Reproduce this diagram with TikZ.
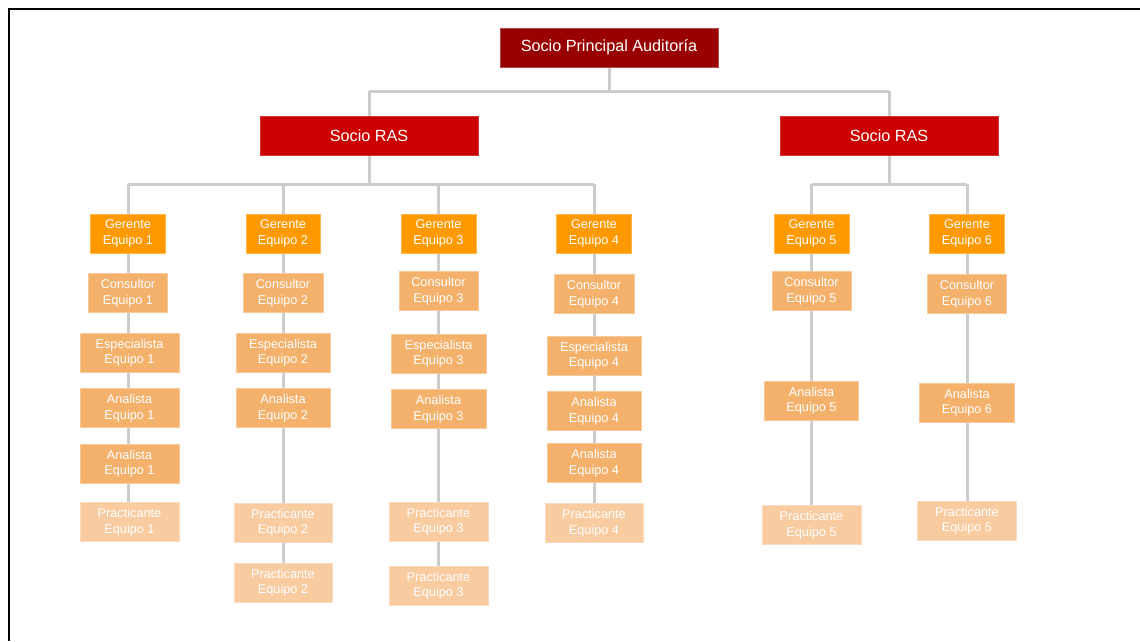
\documentclass[tikz,border=0pt]{standalone}
\usepackage{fontspec}
\setmainfont{Liberation Sans}
\definecolor{darkred}{RGB}{153,0,0}
\definecolor{rasred}{RGB}{204,0,0}
\definecolor{gerc}{RGB}{255,153,0}
\definecolor{midc}{RGB}{244,177,108}
\definecolor{prac}{RGB}{248,203,160}
\definecolor{linec}{RGB}{204,204,204}
\tikzset{
  box/.style={rectangle, inner sep=0pt, minimum height=39pt, align=center, text=white,
    font=\fontsize{12.7}{15.5}\selectfont, line width=0.8pt},
  topbox/.style={box, fill=darkred, draw=darkred!70!white, minimum width=218pt, font=\fontsize{16.2}{18}\selectfont},
  rasbox/.style={box, fill=rasred, draw=rasred!80!white, minimum width=218pt, font=\fontsize{16.2}{18}\selectfont},
  gbox/.style={box, fill=gerc, draw=gerc!70!white},
  mbox/.style={box, fill=midc, draw=midc!70!white},
  pbox/.style={box, fill=prac, draw=prac!70!white},
  conn/.style={draw=linec, line width=3pt},
}
\begin{document}
\begin{tikzpicture}[x=1pt,y=-1pt]
\useasboundingbox (0,0) rectangle (1140,641);
\fill[white] (0,0) rectangle (1140,641);
\draw[line width=2pt, black] (9,641) -- (9,9) -- (1140,9);

% coordinates for bars
\coordinate (tb) at (609,91);
\coordinate (tbl) at (369,91);
\coordinate (tbr) at (889,91);
\coordinate (lb) at (369,184);
\coordinate (lb1) at (128,184);
\coordinate (lb2) at (283,184);
\coordinate (lb3) at (438.5,184);
\coordinate (lb4) at (594,184);
\coordinate (rb) at (889,184);
\coordinate (rb5) at (811.5,184);
\coordinate (rb6) at (967,184);

% connectors (drawn first, behind)
\draw[conn] (609,67) -- (tb);
\draw[conn] (tbl) -- (tbr);
\draw[conn] (tbl) -- (369,116);
\draw[conn] (tbr) -- (889,116);
\draw[conn] (369,155) -- (lb);
\draw[conn] (lb1) -- (lb4);
\draw[conn] (889,155) -- (rb);
\draw[conn] (rb5) -- (rb6);

% columns: vertical connectors behind
\draw[conn] (lb1) -- (128,522);
\draw[conn] (lb2) -- (283,582.5);
\draw[conn] (lb3) -- (438.5,585.5);
\draw[conn] (lb4) -- (594,523);
\draw[conn] (rb5) -- (811.5,525);
\draw[conn] (rb6) -- (967,520.5);

\node[topbox] (top) at (609,47.5) {Socio Principal Auditoría};
\node[rasbox] (rasL) at (369,135.5) {Socio RAS};
\node[rasbox] (rasR) at (889,135.5) {Socio RAS};

% column 1
\node[gbox, minimum width=75pt] (g1) at (128,233.5) {Gerente\\Equipo 1};
\node[mbox, minimum width=79pt] (c1) at (128,293) {Consultor\\Equipo 1};
\node[mbox, minimum width=99pt] (e1) at (129.5,352.5) {Especialista\\Equipo 1};
\node[mbox, minimum width=99pt] (a1) at (129.5,408) {Analista\\Equipo 1};
\node[mbox, minimum width=99pt] (a1b) at (129.5,463.5) {Analista\\Equipo 1};
\node[pbox, minimum width=99pt] (p1) at (129.5,522) {Practicante\\Equipo 1};

% column 2
\node[gbox, minimum width=74pt] (g2) at (283,233.5) {Gerente\\Equipo 2};
\node[mbox, minimum width=80pt] (c2) at (283,293) {Consultor\\Equipo 2};
\node[mbox, minimum width=94pt] (e2) at (283,352.5) {Especialista\\Equipo 2};
\node[mbox, minimum width=94pt] (a2) at (283,408) {Analista\\Equipo 2};
\node[pbox, minimum width=98pt] (p2) at (283,522.5) {Practicante\\Equipo 2};
\node[pbox, minimum width=98pt] (p2b) at (283,582.5) {Practicante\\Equipo 2};

% column 3
\node[gbox, minimum width=75pt] (g3) at (438.5,233.5) {Gerente\\Equipo 3};
\node[mbox, minimum width=79pt] (c3) at (438.5,291) {Consultor\\Equipo 3};
\node[mbox, minimum width=95pt] (e3) at (438.5,353.5) {Especialista\\Equipo 3};
\node[mbox, minimum width=95pt] (a3) at (438.5,409) {Analista\\Equipo 3};
\node[pbox, minimum width=99pt] (p3) at (438.5,521.5) {Practicante\\Equipo 3};
\node[pbox, minimum width=99pt] (p3b) at (438.5,585.5) {Practicante\\Equipo 3};

% column 4
\node[gbox, minimum width=75pt] (g4) at (594,233.5) {Gerente\\Equipo 4};
\node[mbox, minimum width=80pt] (c4) at (594,294) {Consultor\\Equipo 4};
\node[mbox, minimum width=94pt] (e4) at (594,355.5) {Especialista\\Equipo 4};
\node[mbox, minimum width=94pt] (a4) at (594,411) {Analista\\Equipo 4};
\node[mbox, minimum width=94pt] (a4b) at (594,463) {Analista\\Equipo 4};
\node[pbox, minimum width=98pt] (p4) at (594,523) {Practicante\\Equipo 4};

% column 5
\node[gbox, minimum width=75pt] (g5) at (811.5,233.5) {Gerente\\Equipo 5};
\node[mbox, minimum width=79pt] (c5) at (811.5,291) {Consultor\\Equipo 5};
\node[mbox, minimum width=94pt] (a5) at (811.5,400.5) {Analista\\Equipo 5};
\node[pbox, minimum width=99pt] (p5) at (811.5,525) {Practicante\\Equipo 5};

% column 6
\node[gbox, minimum width=75pt] (g6) at (967,233.5) {Gerente\\Equipo 6};
\node[mbox, minimum width=79pt] (c6) at (967,294) {Consultor\\Equipo 6};
\node[mbox, minimum width=95pt] (a6) at (967,402.5) {Analista\\Equipo 6};
\node[pbox, minimum width=99pt] (p6) at (967,520.5) {Practicante\\Equipo 5};
\end{tikzpicture}
\end{document}
